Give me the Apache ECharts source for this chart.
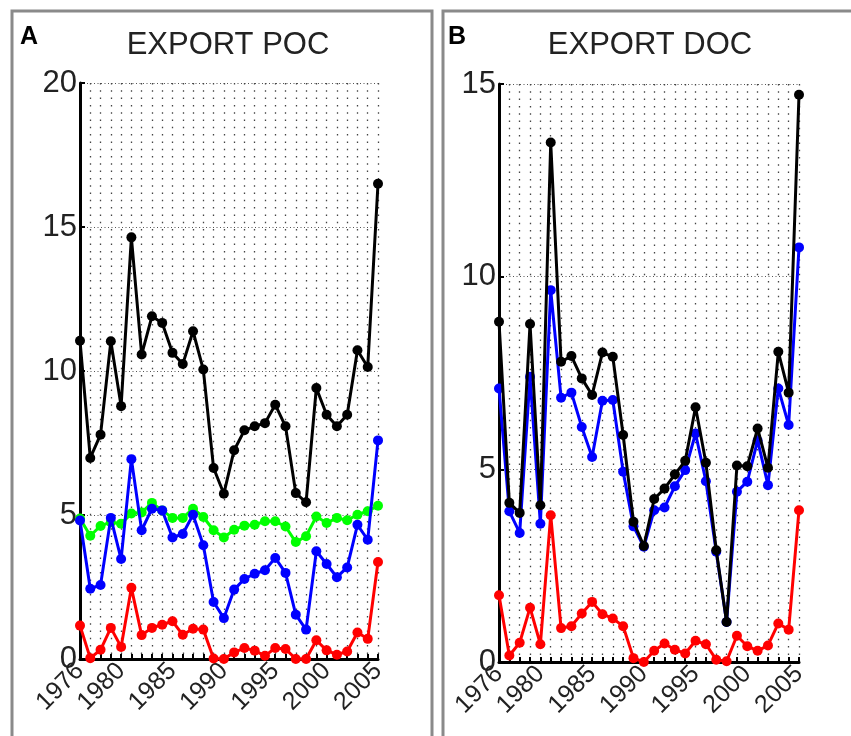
<!DOCTYPE html>
<html><head><meta charset="utf-8">
<script src="https://cdn.jsdelivr.net/npm/echarts@6/dist/echarts.min.js"></script>
<style>html,body{margin:0;padding:0;background:#fff}#c{width:851px;height:736px}</style>
</head><body><div id="c"></div>
<script>
const years = [1976,1977,1978,1979,1980,1981,1982,1983,1984,1985,1986,1987,1988,1989,1990,1991,1992,1993,1994,1995,1996,1997,1998,1999,2000,2001,2002,2003,2004,2005];
const xTickLabels = [1976,1980,1985,1990,1995,2000,2005];
const pocTicks = [0,5,10,15,20];
const docTicks = [0,5,10,15];
const panelTitles = ["EXPORT POC","EXPORT DOC"];
const panelLetters = ["A","B"];

const pocBlack = [11.05,6.98,7.79,11.03,8.78,14.64,10.57,11.9,11.67,10.63,10.24,11.38,10.05,6.63,5.74,7.25,7.94,8.08,8.19,8.83,8.08,5.76,5.44,9.41,8.48,8.08,8.48,10.72,10.14,16.5];
const pocBlue = [4.81,2.44,2.57,4.90,3.47,6.94,4.47,5.22,5.16,4.22,4.34,5.01,3.95,1.98,1.42,2.41,2.78,2.96,3.08,3.51,2.99,1.54,1.02,3.74,3.30,2.84,3.18,4.66,4.14,7.59];
const pocGreen = [4.88,4.28,4.62,4.75,4.70,5.05,5.09,5.42,5.16,4.90,4.90,5.22,4.93,4.47,4.22,4.49,4.63,4.66,4.78,4.78,4.60,4.06,4.26,4.95,4.72,4.90,4.82,5.01,5.13,5.32];
const pocRed = [1.16,0.03,0.32,1.08,0.42,2.47,0.83,1.08,1.19,1.31,0.84,1.05,1.02,0.02,0.0,0.23,0.38,0.29,0.11,0.38,0.35,0.0,0.0,0.65,0.30,0.15,0.26,0.92,0.70,3.37];

const docBlack = [8.83,4.13,3.87,8.77,4.07,13.48,7.79,7.94,7.36,6.93,8.03,7.92,5.89,3.64,3.01,4.23,4.50,4.87,5.22,6.61,5.17,2.90,1.04,5.10,5.08,6.06,5.04,8.05,6.99,14.72];
const docBlue = [7.10,3.91,3.35,7.40,3.59,9.65,6.86,6.99,6.10,5.32,6.78,6.80,4.94,3.52,2.99,3.94,4.01,4.56,4.98,5.93,4.69,2.86,1.04,4.42,4.68,5.75,4.59,7.10,6.15,10.76];
const docRed = [1.73,0.17,0.50,1.41,0.46,3.81,0.88,0.93,1.26,1.56,1.24,1.13,0.93,0.10,0.00,0.29,0.48,0.32,0.22,0.55,0.46,0.06,0.02,0.68,0.41,0.29,0.43,1.00,0.84,3.94];

const FONT = 'Liberation Sans';
const chart = echarts.init(document.getElementById('c'), null, {renderer:'canvas'});

function pairs(vals){ return years.map((y,i)=>[y, vals[i]]); }

function xAxis(gi){
  return {
    type:'value', gridIndex:gi, min:years[0], max:years[years.length-1], interval:1,
    axisLine:{show:true, onZero:false, lineStyle:{color:'#000', width:3}},
    axisTick:{show:true, inside:true, length:5, lineStyle:{color:'#000', width:2}},
    axisLabel:{rotate:45, fontSize:25, color:'#222', fontFamily:FONT, margin:8,
      showMinLabel:true, showMaxLabel:true,
      formatter:v => xTickLabels.indexOf(v) >= 0 ? String(v) : ''},
    splitLine:{show:true, lineStyle:{type:[1.5,5.8], color:'#444', width:1.3}}
  };
}
function yAxis(gi, ticks){
  return {
    type:'value', gridIndex:gi, min:ticks[0], max:ticks[ticks.length-1], interval:ticks[1]-ticks[0],
    axisLine:{show:true, onZero:false, lineStyle:{color:'#000', width:3}},
    axisTick:{show:true, inside:true, length:5, lineStyle:{color:'#000', width:2}},
    axisLabel:{fontSize:31, color:'#222', fontFamily:FONT, margin:3},
    splitLine:{show:true, lineStyle:{type:[1,2.5], color:'#555', width:1.2}}
  };
}
function line(gi, vals, color, z){
  return {
    type:'line', xAxisIndex:gi, yAxisIndex:gi, data:pairs(vals), z:z,
    symbol:'circle', symbolSize:10, showSymbol:true, showAllSymbol:true,
    lineStyle:{color:color, width:3}, itemStyle:{color:color},
    animation:false, silent:true
  };
}

const graphics = [
  {type:'rect', shape:{x:12, y:11, width:420, height:760}, style:{fill:'none', stroke:'#8a8a8a', lineWidth:3}, z:-10},
  {type:'rect', shape:{x:443, y:11, width:430, height:760}, style:{fill:'none', stroke:'#8a8a8a', lineWidth:3}, z:-10},
  {type:'text', x:20, y:25, style:{text:panelLetters[0], font:'bold 25px "Liberation Sans"', fill:'#000'}},
  {type:'text', x:448, y:25, style:{text:panelLetters[1], font:'bold 25px "Liberation Sans"', fill:'#000'}},
  {type:'text', x:228, y:45, style:{text:panelTitles[0], font:'31px "Liberation Sans"', fill:'#222', textAlign:'center', textVerticalAlign:'middle'}},
  {type:'text', x:650, y:45, style:{text:panelTitles[1], font:'31px "Liberation Sans"', fill:'#222', textAlign:'center', textVerticalAlign:'middle'}}
];

chart.setOption({
  animation:false,
  backgroundColor:'#fff',
  grid:[
    {left:80, top:83, width:298, height:576},
    {left:499, top:84, width:300, height:578}
  ],
  xAxis:[xAxis(0), xAxis(1)],
  yAxis:[yAxis(0,pocTicks), yAxis(1,docTicks)],
  series:[
    line(0, pocGreen, '#00ff00', 2),
    line(0, pocRed, '#ff0000', 3),
    line(0, pocBlue, '#0000ff', 4),
    line(0, pocBlack, '#000000', 5),
    line(1, docRed, '#ff0000', 3),
    line(1, docBlue, '#0000ff', 4),
    line(1, docBlack, '#000000', 5)
  ],
  graphic:graphics
});
</script></body></html>
